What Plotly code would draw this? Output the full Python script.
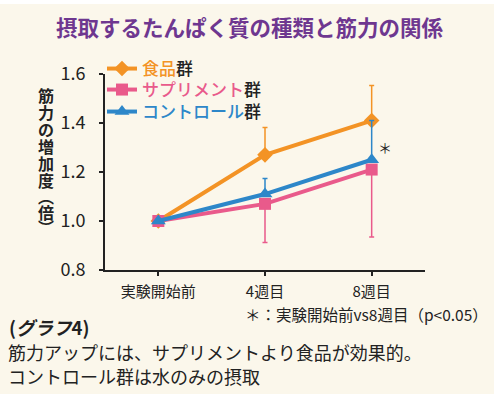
import plotly.graph_objects as go

categories = ["実験開始前", "4週目", "8週目"]

food = [1.00, 1.27, 1.41]
food_err_plus = [0.0, 0.112, 0.143]

supp = [1.00, 1.07, 1.21]
supp_err_minus = [0.0, 0.158, 0.275]

ctrl = [1.00, 1.11, 1.25]
ctrl_err_plus = [0.0, 0.063, 0.16]

y_ticks = [0.8, 1.0, 1.2, 1.4, 1.6]

ORANGE = "#F39325"
PINK = "#E95A8B"
BLUE = "#2D87C9"
FONT = "Noto Sans CJK JP"
BG = "#FBF7EB"
INK = "#222222"

W, H = 500, 399
L, R, T, B = 105, 75, 74, 129


def pxx(x):
    return (x - L) / (W - L - R)


def pxy(y):
    return (H - B - y) / (H - T - B)


fig = go.Figure()

fig.add_trace(go.Scatter(
    x=categories, y=food, mode="lines+markers",
    name=f'<span style="color:{ORANGE}">食品</span>群',
    line=dict(color=ORANGE, width=4),
    marker=dict(symbol="diamond", size=12, color=ORANGE),
    error_y=dict(type="data", symmetric=False, array=food_err_plus,
                 arrayminus=[0, 0, 0], color=ORANGE, thickness=1.5, width=2.5),
    legend="legend",
))
fig.add_trace(go.Scatter(
    x=categories, y=supp, mode="lines+markers",
    name=f'<span style="color:{PINK}">サプリメント</span>群',
    line=dict(color=PINK, width=4),
    marker=dict(symbol="square", size=12, color=PINK),
    error_y=dict(type="data", symmetric=False, array=[0, 0, 0],
                 arrayminus=supp_err_minus, color=PINK, thickness=1.5, width=2.5),
    legend="legend2",
))
fig.add_trace(go.Scatter(
    x=categories, y=ctrl, mode="lines+markers",
    name=f'<span style="color:{BLUE}">コントロール</span>群',
    line=dict(color=BLUE, width=4),
    marker=dict(symbol="triangle-up", size=13, color=BLUE),
    error_y=dict(type="data", symmetric=False, array=ctrl_err_plus,
                 arrayminus=[0, 0, 0], color=BLUE, thickness=1.5, width=2.5),
    legend="legend3",
))


def ann(text, x, y, size, color=INK, xanchor="center", angle=0):
    return dict(text=text, x=pxx(x), y=pxy(y), xref="paper", yref="paper",
                xanchor=xanchor, yanchor="middle", showarrow=False, textangle=angle,
                font=dict(family=FONT, size=size, color=color))


annotations = []
title = "摂取するたんぱく質の種類と筋力の関係"
annotations.append(ann(f"<b>{title}</b>", 250, 27, 21.5, "#6E3790"))

# vertical y-axis title
ychars = [("筋", 95), ("力", 112), ("の", 129), ("増", 146), ("加", 163),
          ("度", 180), ("︵", 196), ("倍", 212), ("︶", 227)]
for ch, yy in ychars:
    annotations.append(ann(f"<b>{ch}</b>", 46, yy, 16))

# significance mark
annotations.append(ann("＊", 385, 147, 14))

# footnotes
annotations.append(ann("＊：実験開始前vs8週目（p<0.05）", 490, 314, 15.5, xanchor="right"))
annotations.append(ann("<b>(<i>グラフ</i>4)</b>", 7, 327, 18.5, xanchor="left"))
annotations.append(ann("筋力アップには、サプリメントより食品が効果的。", 6, 352, 18, xanchor="left"))
annotations.append(ann("コントロール群は水のみの摂取", 6, 376, 18, xanchor="left"))

shapes = [
    dict(type="rect", xref="paper", yref="paper", x0=pxx(0), x1=pxx(500), y0=pxy(0), y1=pxy(4),
         fillcolor="white", line=dict(width=0), layer="below"),
    dict(type="rect", xref="paper", yref="paper", x0=pxx(494), x1=pxx(500), y0=pxy(0), y1=pxy(399),
         fillcolor="white", line=dict(width=0), layer="below"),
    dict(type="rect", xref="paper", yref="paper", x0=pxx(0), x1=pxx(500), y0=pxy(394), y1=pxy(399),
         fillcolor="white", line=dict(width=0), layer="below"),
]


def legend_at(top_px):
    return dict(x=pxx(102), y=pxy(top_px), xanchor="left", yanchor="top",
                bgcolor="rgba(0,0,0,0)", itemwidth=30,
                font=dict(family=FONT, size=17, color=INK, weight=500))


fig.update_layout(
    width=W, height=H, autosize=False,
    margin=dict(l=L, r=R, t=T, b=B, pad=0, autoexpand=False),
    paper_bgcolor=BG, plot_bgcolor=BG,
    font=dict(family=FONT, color=INK),
    showlegend=True,
    legend=legend_at(51),
    legend2=legend_at(72),
    legend3=legend_at(94),
    annotations=annotations,
    shapes=shapes,
    xaxis=dict(range=[-0.5, 2.5], showline=True, linecolor=INK, linewidth=2,
               ticks="outside", ticklen=4, tickwidth=1.5, tickcolor=INK,
               showgrid=False, zeroline=False, ticklabelstandoff=3,
               tickfont=dict(family=FONT, size=15, color=INK)),
    yaxis=dict(range=[0.8, 1.6], tickvals=y_ticks, tickformat=".1f",
               showline=True, linecolor=INK, linewidth=2,
               ticks="outside", ticklen=4, tickwidth=1.5, tickcolor=INK,
               showgrid=False, zeroline=False, ticklabelstandoff=10,
               tickfont=dict(family=FONT, size=18, color=INK)),
)

fig.write_html("out.html", config={"displayModeBar": False},
               post_script="document.body.style.margin='0';document.body.style.overflow='hidden';")
